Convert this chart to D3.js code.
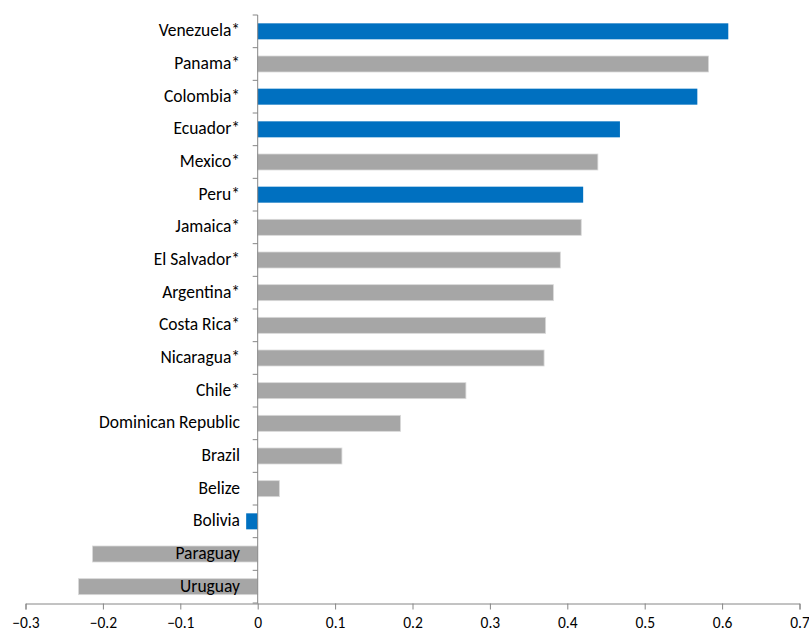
<!DOCTYPE html>
<html><head><meta charset="utf-8">
<script src="https://cdn.jsdelivr.net/npm/d3@7"></script>
<style>body{margin:0;background:#fff}svg{display:block}text{font-family:Carlito,Calibri,Lato,"Open Sans",sans-serif;fill:#000}</style>
</head><body>
<script>
const categories = ["Venezuela*","Panama*","Colombia*","Ecuador*","Mexico*","Peru*","Jamaica*","El Salvador*","Argentina*","Costa Rica*","Nicaragua*","Chile*","Dominican Republic","Brazil","Belize","Bolivia","Paraguay","Uruguay"];
const values = [0.608,0.5825,0.568,0.468,0.4395,0.4205,0.418,0.391,0.382,0.372,0.370,0.269,0.1845,0.1088,0.028,-0.0149,-0.2134,-0.2315];
const highlighted = ["Venezuela*","Colombia*","Ecuador*","Peru*","Bolivia"];
const xTicks = [-0.3,-0.2,-0.1,0,0.1,0.2,0.3,0.4,0.5,0.6,0.7];

const W=809,H=632;
const svg=d3.select("body").append("svg").attr("width",W).attr("height",H);
const x=d3.scaleLinear().domain([-0.3,0.7]).range([25.5,799.5]);
const y=d3.scaleBand().domain(categories).range([15,603]).paddingInner(0.51).paddingOuter(0.255);
const axisColor="#868686";

// bars
svg.selectAll("rect.bar").data(categories).enter().append("rect")
  .attr("x",(d,i)=>x(Math.min(0,values[i])))
  .attr("width",(d,i)=>Math.abs(x(values[i])-x(0)))
  .attr("y",d=>y(d))
  .attr("height",y.bandwidth())
  .attr("fill",d=>highlighted.includes(d)?"#0070C0":"#A6A6A6")
  .attr("stroke",d=>highlighted.includes(d)?"none":"#D9D9D9")
  .attr("stroke-width",0.8);

// y axis line at zero with band ticks
const yb=d3.range(categories.length+1).map(i=>15+i*(588/categories.length));
svg.append("line").attr("x1",x(0)).attr("x2",x(0)).attr("y1",15).attr("y2",603.5).attr("stroke",axisColor).attr("stroke-width",1);
svg.selectAll("line.yt").data(yb).enter().append("line")
  .attr("x1",x(0)-5).attr("x2",x(0)).attr("y1",d=>d).attr("y2",d=>d)
  .attr("stroke",axisColor).attr("stroke-width",1);

// category labels
svg.selectAll("text.cat").data(categories).enter().append("text")
  .attr("x",240).attr("y",d=>y(d)+y.bandwidth()/2-1).attr("dy","0.35em")
  .attr("text-anchor","end").attr("font-size","17.5px").text(d=>d);

// x axis
const xa=svg.append("g").attr("transform","translate(0,603.5)")
  .call(d3.axisBottom(x).tickValues(xTicks).tickSize(6).tickPadding(7).tickFormat(d=>d3.format("")(+d.toFixed(1))));
xa.select(".domain").attr("stroke",axisColor);
xa.selectAll(".tick line").attr("stroke",axisColor);
xa.selectAll(".tick text").attr("font-size","15.5px").style("font-family","Carlito,Calibri,Lato,sans-serif").attr("fill","#000");
</script>
</body></html>
